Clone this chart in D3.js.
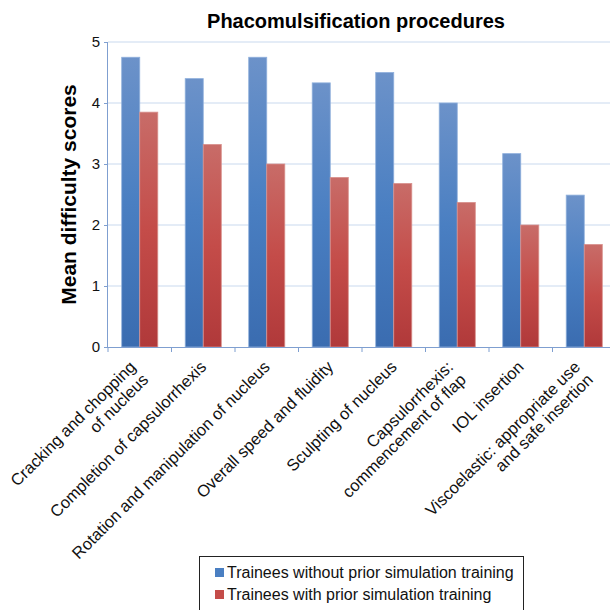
<!DOCTYPE html>
<html>
<head>
<meta charset="utf-8">
<script src="https://cdn.jsdelivr.net/npm/d3@7"></script>
<style>
  body { margin: 0; background: #fff; }
  svg { display: block; font-family: Arial, "Liberation Sans", sans-serif; }
  .grid line { stroke: #c9d9ee; stroke-width: 1; }
  .axis path, .axis line { stroke: #7f9fd0; }
  .axis text { fill: #111; }
</style>
</head>
<body>
<svg id="chart" width="610" height="610"></svg>
<script>
const categories = [
  ['Cracking and chopping', 'of nucleus'],
  ['Completion of capsulorrhexis'],
  ['Rotation and manipulation of nucleus'],
  ['Overall speed and fluidity'],
  ['Sculpting of nucleus'],
  ['Capsulorrhexis:', 'commencement of flap'],
  ['IOL insertion'],
  ['Viscoelastic: appropriate use', 'and safe insertion'],
];
const seriesNames = [
  'Trainees without prior simulation training',
  'Trainees with prior simulation training',
];
const withoutSim = [4.75, 4.40, 4.75, 4.33, 4.50, 4.00, 3.17, 2.49];
const withSim = [3.85, 3.32, 3.00, 2.78, 2.68, 2.37, 2.00, 1.68];
const yTicks = [0, 1, 2, 3, 4, 5];

const margin = { top: 42, left: 108, bottom: 263 };
const plotRight = 616;
const svg = d3.select('#chart');
const height = 610;
const axisY = height - margin.bottom;

const keys = categories.map(d => d.join(' '));
const rows = keys.map((k, i) => ({ key: k, values: [withoutSim[i], withSim[i]] }));

const x = d3.scaleBand().domain(keys).range([margin.left, plotRight]).padding(0);
const xSub = d3.scaleBand().domain([0, 1]).range([0, x.bandwidth()])
  .paddingInner(0).paddingOuter(0.76);
const y = d3.scaleLinear().domain([0, 5]).range([axisY, margin.top]);

// gradients
const defs = svg.append('defs');
const grads = [
  ['gBlue', '#6c92c9', '#4a7fc2', '#3a6cb0'],
  ['gRed', '#c86c68', '#c44c49', '#b0393a'],
];
grads.forEach(([id, a, b, c]) => {
  const g = defs.append('linearGradient').attr('id', id)
    .attr('x1', 0).attr('y1', 0).attr('x2', 0).attr('y2', 1);
  g.append('stop').attr('offset', '0%').attr('stop-color', a);
  g.append('stop').attr('offset', '50%').attr('stop-color', b);
  g.append('stop').attr('offset', '100%').attr('stop-color', c);
});
const fills = ['url(#gBlue)', 'url(#gRed)'];
const strokes = ['#8fb0dc', '#d8908c'];
const legendColors = ['#4a7fc2', '#c44c49'];

// gridlines
svg.append('g').attr('class', 'grid')
  .selectAll('line').data(yTicks.filter(d => d > 0)).enter()
  .append('line')
  .attr('x1', margin.left).attr('x2', plotRight)
  .attr('y1', d => y(d)).attr('y2', d => y(d));

// bars
const groups = svg.append('g').selectAll('g').data(rows).enter()
  .append('g')
  .attr('transform', d => `translate(${x(d.key)},0)`);
groups.selectAll('rect').data(d => d.values).enter()
  .append('rect')
  .attr('x', (d, i) => xSub(i))
  .attr('width', xSub.bandwidth())
  .attr('y', d => y(d))
  .attr('height', d => axisY - y(d))
  .attr('fill', (d, i) => fills[i])
  .attr('stroke', (d, i) => strokes[i])
  .attr('stroke-width', 0.8);

// y axis
const gY = svg.append('g').attr('class', 'axis')
  .attr('transform', `translate(${margin.left},0)`)
  .call(d3.axisLeft(y).tickValues(yTicks).tickSize(4).tickPadding(4).tickFormat(d3.format('d')));
gY.selectAll('text').attr('font-size', 15);
gY.select('.domain').attr('d', `M-0.5,${margin.top}V${axisY}`);

// x axis
const gX = svg.append('g').attr('class', 'axis')
  .attr('transform', `translate(0,${axisY})`);
gX.append('line').attr('x1', margin.left).attr('x2', plotRight)
  .attr('y1', 0.5).attr('y2', 0.5);
gX.selectAll('line.tk').data(keys.concat(['end'])).enter()
  .append('line').attr('class', 'tk')
  .attr('x1', (d, i) => (i < keys.length ? x(d) : plotRight))
  .attr('x2', (d, i) => (i < keys.length ? x(d) : plotRight))
  .attr('y1', 0).attr('y2', 5);

// category labels, rotated; two-line ones shift left, 2nd line steps down-right
const lineH = 18;
const labels = svg.append('g').selectAll('text').data(categories).enter()
  .append('text')
  .attr('font-size', 16.5)
  .attr('fill', '#111')
  .attr('text-anchor', 'end')
  .attr('transform', (d, i) => {
    const cx = x(keys[i]) + x.bandwidth() / 2;
    return `translate(${cx + 4},${axisY + 21}) rotate(-45)`;
  });
labels.selectAll('tspan').data(d => d.map((t, j) => ({ t, j, n: d.length }))).enter()
  .append('tspan')
  .attr('x', d => (d.n > 1 ? -5 : 0))
  .attr('y', d => (d.n > 1 ? -5 : 0) + d.j * lineH)
  .text(d => d.t);

// title
svg.append('text')
  .attr('x', 356).attr('y', 28)
  .attr('text-anchor', 'middle')
  .attr('font-size', 20).attr('font-weight', 'bold')
  .text('Phacomulsification procedures');

// y label
svg.append('text')
  .attr('transform', `translate(76,${(margin.top + axisY) / 2}) rotate(-90)`)
  .attr('text-anchor', 'middle')
  .attr('font-size', 21).attr('font-weight', 'bold')
  .text('Mean difficulty scores');

// legend
const lg = svg.append('g').attr('transform', 'translate(199,556)');
lg.append('rect').attr('x', 0.5).attr('y', 0.5).attr('width', 324).attr('height', 70)
  .attr('fill', '#fff').attr('stroke', '#222').attr('stroke-width', 1);
const items = lg.selectAll('g.item').data(seriesNames).enter()
  .append('g').attr('class', 'item')
  .attr('transform', (d, i) => `translate(16,${12 + i * 22})`);
items.append('rect').attr('width', 9).attr('height', 9)
  .attr('fill', (d, i) => legendColors[i]);
items.append('text').attr('x', 12).attr('y', 10)
  .attr('font-size', 16).attr('fill', '#111')
  .text(d => d);
</script>
</body>
</html>
